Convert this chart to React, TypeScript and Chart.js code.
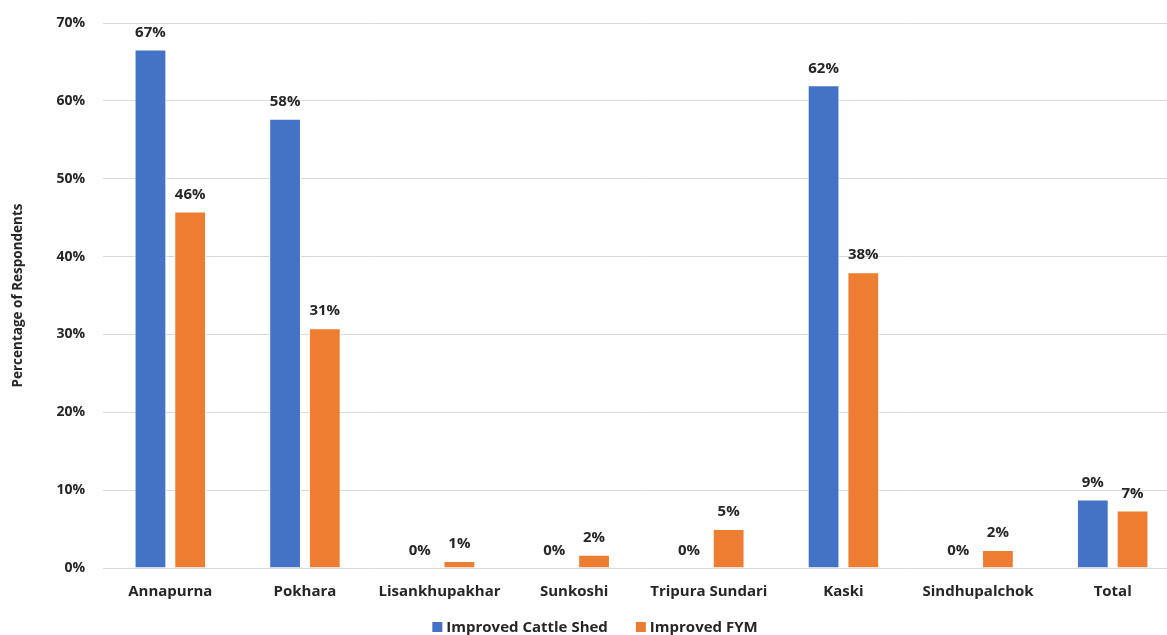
import React, { useEffect, useRef } from "react";
import { Chart, registerables } from "chart.js";

Chart.register(...registerables);

const categories = [
  "Annapurna",
  "Pokhara",
  "Lisankhupakhar",
  "Sunkoshi",
  "Tripura Sundari",
  "Kaski",
  "Sindhupalchok",
  "Total",
];
const seriesNames = ["Improved Cattle Shed", "Improved FYM"];
const cattleShed = [66.6, 57.7, 0, 0, 0, 62.0, 0, 8.8];
const fym = [45.8, 30.8, 0.9, 1.7, 5.0, 38.0, 2.3, 7.4];
const yTicks = [0, 10, 20, 30, 40, 50, 60, 70];

const FONT = "'Open Sans', sans-serif";
const TEXT = "#262626";
const COLORS = ["#4472C4", "#ED7D31"];

// Writes each bar's rounded percentage just above it
const valueLabels = {
  id: "valueLabels",
  afterDatasetsDraw(chart: any) {
    const ctx = chart.ctx;
    ctx.save();
    ctx.font = `bold 15px ${FONT}`;
    ctx.fillStyle = TEXT;
    ctx.textAlign = "center";
    ctx.textBaseline = "middle";
    chart.data.datasets.forEach((ds: any, i: number) => {
      const meta = chart.getDatasetMeta(i);
      meta.data.forEach((bar: any, j: number) => {
        const v = ds.data[j];
        ctx.fillText(`${Math.round(v)}%`, bar.x, bar.y - 17);
      });
    });
    ctx.restore();
  },
};

// Compact legend row along the bottom edge
const bottomLegend = {
  id: "bottomLegend",
  afterDraw(chart: any) {
    const ctx = chart.ctx;
    ctx.save();
    ctx.font = `bold 15px ${FONT}`;
    ctx.textBaseline = "middle";
    ctx.textAlign = "left";
    const box = 10;
    const gap = 4;
    const itemGap = 28;
    const widths = chart.data.datasets.map((d: any) => ctx.measureText(d.label).width);
    const total =
      widths.reduce((a: number, w: number) => a + box + gap + w, 0) +
      itemGap * (widths.length - 1);
    let x = 595 - total / 2;
    const y = 627;
    chart.data.datasets.forEach((d: any, i: number) => {
      ctx.fillStyle = d.backgroundColor;
      ctx.fillRect(x, y - box / 2, box, box);
      ctx.fillStyle = TEXT;
      ctx.fillText(d.label, x + box + gap, y + 1);
      x += box + gap + widths[i] + itemGap;
    });
    ctx.restore();
  },
};

export default function App() {
  const ref = useRef<HTMLCanvasElement>(null);

  useEffect(() => {
    document.body.style.margin = "0";
    const chart = new Chart(ref.current!, {
      type: "bar",
      data: {
        labels: categories,
        datasets: [
          {
            label: seriesNames[0],
            data: cattleShed,
            backgroundColor: COLORS[0],
            borderColor: "#ffffff",
            borderWidth: 1,
          },
          {
            label: seriesNames[1],
            data: fym,
            backgroundColor: COLORS[1],
            borderColor: "#ffffff",
            borderWidth: 1,
          },
        ],
      },
      options: {
        responsive: false,
        animation: false,
        layout: { padding: { top: 23, right: 0, left: 0, bottom: 17 } },
        datasets: {
          bar: { categoryPercentage: 0.59, barPercentage: 0.8 },
        },
        plugins: {
          legend: { display: false },
          tooltip: { enabled: false },
        },
        scales: {
          x: {
            grid: { display: false },
            border: { display: false },
            ticks: {
              color: TEXT,
              padding: 7,
              font: { family: FONT, size: 15, weight: "bold" },
            },
            afterFit: (s: any) => {
              s.height = 50;
            },
          },
          y: {
            min: 0,
            max: 70,
            afterBuildTicks: (s: any) => {
              s.ticks = yTicks.map((v) => ({ value: v }));
            },
            grid: { color: "#D9D9D9", drawTicks: false, lineWidth: 1 },
            border: { display: false },
            ticks: {
              color: TEXT,
              padding: 18,
              font: { family: FONT, size: 14, weight: "bold" },
              callback: (v: any) => `${v}%`,
            },
            title: {
              display: true,
              text: "Percentage of Respondents",
              color: TEXT,
              padding: { top: 10, bottom: 0 },
              font: { family: FONT, size: 13.5, weight: "bold" },
            },
            afterFit: (s: any) => {
              s.width = 103;
              s.paddingTop = 0;
              s.paddingBottom = 0;
            },
          },
        },
      },
      plugins: [valueLabels, bottomLegend],
    });
    return () => chart.destroy();
  }, []);

  return (
    <div style={{ width: 1167, height: 635, overflow: "hidden" }}>
      <canvas ref={ref} width={1180} height={635} />
    </div>
  );
}
